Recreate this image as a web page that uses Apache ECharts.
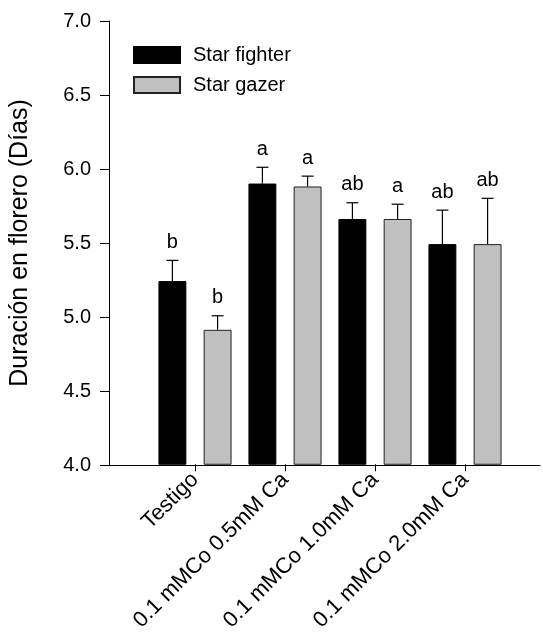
<!DOCTYPE html>
<html>
<head>
<meta charset="utf-8">
<script src="https://cdn.jsdelivr.net/npm/echarts@6/dist/echarts.min.js"></script>
<style>html,body{margin:0;padding:0;background:#fff;}#c{width:543px;height:634px;}</style>
</head>
<body>
<div id="c"></div>
<script>
var categories = ['Testigo', '0.1 mMCo 0.5mM Ca', '0.1 mMCo 1.0mM Ca', '0.1 mMCo 2.0mM Ca'];
var seriesNames = ['Star fighter', 'Star gazer'];
var fighterValues = [5.24, 5.90, 5.66, 5.49];
var fighterErrors = [0.14, 0.11, 0.11, 0.23];
var fighterLetters = ['b', 'a', 'ab', 'ab'];
var gazerValues = [4.91, 5.88, 5.66, 5.49];
var gazerErrors = [0.095, 0.07, 0.10, 0.31];
var gazerLetters = ['b', 'a', 'a', 'ab'];
var yTicks = [4.0, 4.5, 5.0, 5.5, 6.0, 6.5, 7.0];

var FONT = 'Liberation Sans, Arial, sans-serif';
var BW = 0.31, GAP = 0.62;

function errSeries(vals, errs, letters, sign) {
  var data = vals.map(function (v, i) { return [i, v, errs[i], letters[i]]; });
  return {
    type: 'custom', xAxisIndex: 1, yAxisIndex: 1, z: 5, silent: true,
    data: data,
    renderItem: function (params, api) {
      var i = api.value(0), v = api.value(1), e = api.value(2);
      var band = api.size([1, 0])[0];
      var off = sign * band * BW * (1 + GAP) / 2;
      var p0 = api.coord([i, v]);
      var p1 = api.coord([i, v + e]);
      var x = p0[0] + off;
      var half = 6;
      return {
        type: 'group',
        children: [
          { type: 'line', shape: { x1: x, y1: p0[1], x2: x, y2: p1[1] }, style: { stroke: '#000', lineWidth: 1.2 } },
          { type: 'line', shape: { x1: x - half, y1: p1[1], x2: x + half, y2: p1[1] }, style: { stroke: '#000', lineWidth: 1.2 } },
          { type: 'text', style: { text: data[params.dataIndex][3], x: x, y: p1[1] - 8, textAlign: 'center', textVerticalAlign: 'bottom', fontSize: 20, fontFamily: FONT, fill: '#000' } }
        ]
      };
    }
  };
}

var chart = echarts.init(document.getElementById('c'), null, { renderer: 'canvas' });
chart.setOption({
  animation: false,
  backgroundColor: '#fff',
  textStyle: { fontFamily: FONT },
  grid: [
    { left: 105, right: 3, top: 21, bottom: 169, containLabel: false },
    { left: 150, right: 33, top: 21, bottom: 169, containLabel: false }
  ],
  legend: {
    orient: 'vertical', left: 133, top: 45, padding: 0, itemWidth: 46, itemHeight: 16, itemGap: 10,
    icon: 'rect', data: seriesNames,
    textStyle: { fontSize: 20, fontFamily: FONT, color: '#000', padding: [0, 0, 0, 8] }
  },
  xAxis: [
    { gridIndex: 0, type: 'value', min: 0, max: 1, axisLine: { show: true, onZero: false, lineStyle: { color: '#000', width: 1 } }, axisTick: { show: false }, axisLabel: { show: false }, splitLine: { show: false } },
    { gridIndex: 1, type: 'category', data: categories, axisLine: { show: false }, axisTick: { show: true, alignWithLabel: true, length: 7, lineStyle: { color: '#000' } },
      axisLabel: { rotate: 45, fontSize: 22, fontFamily: FONT, color: '#000', margin: 12, interval: 0 }, splitLine: { show: false } }
  ],
  yAxis: [
    { gridIndex: 0, type: 'value', min: 4, max: 7, interval: 0.5,
      name: 'Duración en florero (Días)', nameLocation: 'middle', nameGap: 76,
      nameTextStyle: { fontSize: 25, fontFamily: FONT, color: '#000' },
      axisLine: { show: true, lineStyle: { color: '#000', width: 1 } },
      axisTick: { show: true, length: 9, lineStyle: { color: '#000' } },
      axisLabel: { fontSize: 20, fontFamily: FONT, color: '#000', margin: 18, formatter: function (v) { return v.toFixed(1); } },
      splitLine: { show: false } },
    { gridIndex: 1, type: 'value', min: 4, max: 7, interval: 0.5, show: false, splitLine: { show: false } }
  ],
  series: [
    { name: seriesNames[0], type: 'bar', xAxisIndex: 1, yAxisIndex: 1, data: fighterValues, barWidth: (BW * 100) + '%', barGap: (GAP * 100) + '%',
      itemStyle: { color: '#000', borderColor: '#000', borderWidth: 1 } },
    { name: seriesNames[1], type: 'bar', xAxisIndex: 1, yAxisIndex: 1, data: gazerValues, barWidth: (BW * 100) + '%', barGap: (GAP * 100) + '%',
      itemStyle: { color: '#c0c0c0', borderColor: '#222', borderWidth: 1 } },
    errSeries(fighterValues, fighterErrors, fighterLetters, -1),
    errSeries(gazerValues, gazerErrors, gazerLetters, 1)
  ]
});
</script>
</body>
</html>
